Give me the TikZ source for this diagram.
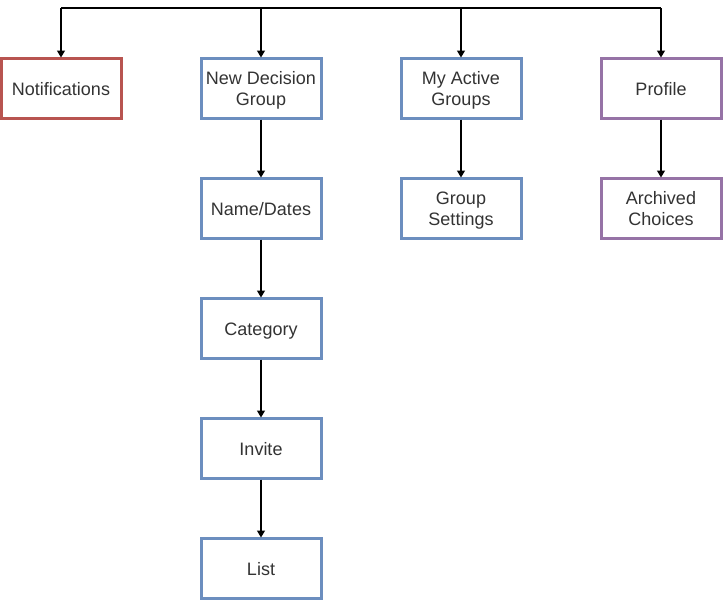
\documentclass[tikz,border=0pt]{standalone}
\usepackage{fontspec}
\setmainfont{Liberation Sans}
\usetikzlibrary{arrows.meta}
\definecolor{redc}{HTML}{B85450}
\definecolor{bluec}{HTML}{6C8EBF}
\definecolor{purc}{HTML}{9673A6}
\definecolor{txt}{HTML}{333333}
\newcommand{\btxt}[1]{\raisebox{-3pt}[\height][\depth]{\begin{tabular}{@{}c@{}}#1\end{tabular}}}
\begin{document}
\begin{tikzpicture}[x=1pt,y=-1pt,
  box/.style={draw, line width=3pt, fill=white, minimum width=120pt, minimum height=60pt,
    inner sep=0pt, text=txt, font=\fontsize{18}{21}\selectfont},
  redbox/.style={box, draw=redc},
  bluebox/.style={box, draw=bluec},
  purbox/.style={box, draw=purc},
  conn/.style={draw=black, line width=1.2pt, -{Triangle[width=8pt,length=7pt]}, shorten >=-1pt}]
\useasboundingbox (0,0) rectangle (723,600);
\node[redbox] (notif) at (61,88) {\btxt{Notifications}};
\node[bluebox] (ndg) at (261,88) {\btxt{New Decision\\Group}};
\node[bluebox] (mag) at (461,88) {\btxt{My Active\\Groups}};
\node[purbox] (prof) at (661,88) {\btxt{Profile}};
\node[bluebox] (nd) at (261,208) {\btxt{Name/Dates}};
\node[bluebox] (cat) at (261,328) {\btxt{Category}};
\node[bluebox] (inv) at (261,448) {\btxt{Invite}};
\node[bluebox] (list) at (261,568) {\btxt{List}};
\node[bluebox] (gs) at (461,208) {\btxt{Group\\Settings}};
\node[purbox] (arch) at (661,208) {\btxt{Archived\\Choices}};
\coordinate (tl) at (61,8);
\coordinate (tr) at (661,8);
\coordinate (t2) at (261,8);
\coordinate (t3) at (461,8);
\draw[line width=1.2pt] (tl) -- (tr);
\draw[conn] (tl) -- (notif.north);
\draw[conn] (t2) -- (ndg.north);
\draw[conn] (t3) -- (mag.north);
\draw[conn] (tr) -- (prof.north);
\draw[conn] (ndg) -- (nd);
\draw[conn] (nd) -- (cat);
\draw[conn] (cat) -- (inv);
\draw[conn] (inv) -- (list);
\draw[conn] (mag) -- (gs);
\draw[conn] (prof) -- (arch);
\end{tikzpicture}
\end{document}
